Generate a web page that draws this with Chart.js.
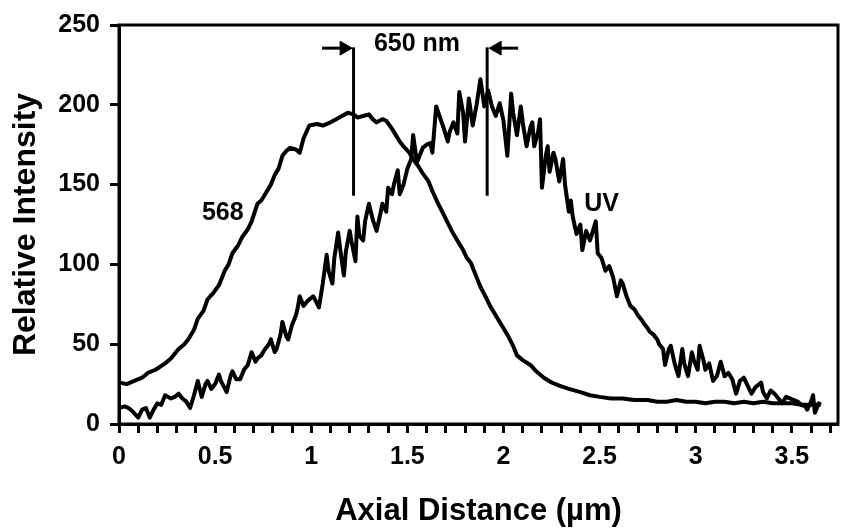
<!DOCTYPE html>
<html>
<head>
<meta charset="utf-8">
<script src="https://cdn.jsdelivr.net/npm/chart.js@4/dist/chart.umd.min.js"></script>
<style>
  body { margin: 0; background: #fff; }
</style>
</head>
<body>
<canvas id="chart" width="851" height="531"></canvas>
<script>
// 568 nm profile
const dist568 = [0.00, 0.04, 0.08, 0.12, 0.15, 0.19, 0.24, 0.27, 0.31, 0.34, 0.36, 0.39, 0.41, 0.44, 0.46, 0.49, 0.52, 0.55, 0.57, 0.59,
  0.62, 0.64, 0.67, 0.69, 0.72, 0.74, 0.76, 0.79, 0.81, 0.83, 0.85, 0.87, 0.89, 0.92, 0.94, 0.96, 0.99, 1.03, 1.06, 1.10,
  1.13, 1.16, 1.19, 1.22, 1.24, 1.27, 1.30, 1.32, 1.34, 1.37, 1.39, 1.42, 1.44, 1.46, 1.48, 1.51, 1.53, 1.56, 1.58, 1.61,
  1.63, 1.66, 1.69, 1.71, 1.74, 1.77, 1.79, 1.81, 1.83, 1.86, 1.88, 1.91, 1.93, 1.95, 1.97, 2.00, 2.02, 2.05, 2.07, 2.10,
  2.14, 2.17, 2.21, 2.25, 2.29, 2.34, 2.40, 2.45, 2.50, 2.56, 2.62, 2.68, 2.75, 2.80, 2.85, 2.90, 2.95, 3.00, 3.05, 3.10,
  3.15, 3.20, 3.25, 3.30, 3.35, 3.40, 3.45, 3.50, 3.55, 3.60, 3.65];
const int568 = [26, 25, 27, 29, 32, 34, 38, 41, 47, 50, 53, 59, 66, 71, 78, 82, 87, 96, 100, 107,
  112, 117, 122, 127, 138, 140, 144, 150, 156, 160, 168, 171, 173, 172, 170, 179, 187, 188, 187, 189,
  191, 193, 195, 194, 192, 193, 194, 191, 189, 191, 190, 185, 181, 177, 174, 170, 166, 161, 157, 152,
  146, 138, 131, 126, 119, 113, 109, 104, 101, 92, 86, 79, 74, 70, 66, 60, 56, 49, 43, 40,
  37, 33, 29, 26, 24, 22, 20, 18, 17, 16, 16, 15, 15, 14, 14, 15, 14, 14, 13, 14,
  14, 13, 14, 13, 14, 13, 13, 13, 12, 12, 12];

// UV profile
const distUV = [0.00, 0.03, 0.05, 0.07, 0.10, 0.12, 0.14, 0.16, 0.18, 0.20, 0.22, 0.24, 0.27, 0.29, 0.31, 0.33, 0.35, 0.37, 0.39, 0.41,
  0.43, 0.45, 0.46, 0.48, 0.50, 0.52, 0.53, 0.56, 0.58, 0.59, 0.61, 0.63, 0.65, 0.67, 0.69, 0.71, 0.72, 0.74, 0.76, 0.78,
  0.79, 0.81, 0.82, 0.84, 0.85, 0.87, 0.88, 0.90, 0.92, 0.93, 0.94, 0.96, 0.98, 1.01, 1.02, 1.04, 1.06, 1.08, 1.09, 1.11,
  1.12, 1.14, 1.15, 1.17, 1.18, 1.20, 1.21, 1.23, 1.24, 1.25, 1.27, 1.28, 1.30, 1.32, 1.34, 1.36, 1.37, 1.39, 1.40, 1.42,
  1.43, 1.45, 1.46, 1.48, 1.50, 1.52, 1.53, 1.55, 1.57, 1.58, 1.60, 1.62, 1.63, 1.65, 1.67, 1.69, 1.71, 1.72, 1.74, 1.76,
  1.77, 1.79, 1.80, 1.82, 1.84, 1.86, 1.88, 1.90, 1.92, 1.94, 1.96, 1.98, 2.00, 2.02, 2.04, 2.05, 2.07, 2.09, 2.10, 2.12,
  2.14, 2.15, 2.16, 2.18, 2.19, 2.20, 2.22, 2.23, 2.24, 2.26, 2.27, 2.29, 2.31, 2.32, 2.34, 2.35, 2.36, 2.38, 2.40, 2.41,
  2.43, 2.45, 2.48, 2.49, 2.51, 2.53, 2.55, 2.57, 2.59, 2.61, 2.62, 2.64, 2.66, 2.68, 2.70, 2.72, 2.73, 2.75, 2.76, 2.78,
  2.80, 2.81, 2.83, 2.84, 2.86, 2.87, 2.89, 2.91, 2.93, 2.94, 2.96, 2.98, 2.99, 3.01, 3.02, 3.04, 3.05, 3.07, 3.09, 3.11,
  3.13, 3.15, 3.17, 3.19, 3.21, 3.23, 3.25, 3.27, 3.29, 3.31, 3.34, 3.35, 3.37, 3.39, 3.41, 3.43, 3.45, 3.47, 3.49, 3.51,
  3.53, 3.55, 3.57, 3.58, 3.60, 3.61, 3.62, 3.64, 3.65];
const intUV = [10, 11, 10, 8, 4, 9, 10, 4, 9, 13, 12, 18, 16, 17, 19, 16, 14, 10, 18, 27,
  17, 25, 27, 22, 25, 31, 27, 20, 30, 33, 28, 28, 34, 37, 45, 39, 41, 43, 47, 50,
  53, 45, 47, 56, 64, 55, 53, 62, 68, 73, 80, 74, 77, 80, 78, 73, 88, 106, 96, 88,
  104, 120, 110, 93, 108, 121, 114, 102, 130, 118, 115, 127, 138, 128, 121, 132, 138, 133, 148, 144,
  150, 159, 144, 150, 160, 166, 181, 164, 170, 173, 175, 176, 170, 199, 192, 185, 177, 183, 189, 182,
  208, 195, 177, 204, 187, 200, 216, 199, 209, 199, 193, 201, 190, 168, 207, 195, 181, 199, 189, 174,
  186, 189, 174, 183, 191, 148, 168, 174, 158, 170, 166, 152, 166, 150, 133, 140, 130, 119, 125, 109,
  121, 115, 127, 107, 104, 96, 99, 92, 80, 90, 88, 80, 74, 72, 68, 65, 63, 60, 58, 56,
  53, 50, 47, 37, 47, 49, 38, 30, 47, 38, 30, 45, 40, 34, 49, 40, 34, 38, 27, 30,
  39, 30, 32, 28, 19, 27, 29, 24, 19, 23, 26, 20, 16, 21, 19, 16, 13, 17, 16, 15,
  14, 12, 11, 9, 14, 18, 7, 13, 12];

// peak markers and the 650 nm arrows
const peakX = [1.22, 1.915];
const peakSpan = [143, 236];
const arrowY = 235.5;
const leftArrowX = [1.056, 1.171];
const rightArrowX = [2.076, 1.967];

// text labels: [text, x, y]
const labels = [
  ['650 nm', 1.55, 238],
  ['568', 0.54, 132],
  ['UV', 2.51, 138]
];

const FONT = '"Liberation Sans", Arial, sans-serif';

function toPoints(xs, ys) {
  return xs.map((x, i) => ({ x: x, y: ys[i] }));
}

function lineSet(points, width) {
  return {
    data: points,
    borderColor: '#000',
    backgroundColor: '#000',
    borderWidth: width,
    borderJoinStyle: 'round',
    pointRadius: 0,
    tension: 0,
    fill: false
  };
}

const datasets = [
  lineSet(toPoints(dist568, int568), 4),
  lineSet(toPoints(distUV, intUV), 4)
];
peakX.forEach((px) => {
  datasets.push(lineSet([{ x: px, y: peakSpan[0] }, { x: px, y: peakSpan[1] }], 3));
});
[[leftArrowX, 90], [rightArrowX, -90]].forEach(([xs, rot]) => {
  let ds = lineSet([{ x: xs[0], y: arrowY }, { x: xs[1], y: arrowY }], 3);
  ds.pointRadius = [0, 8];
  ds.pointStyle = 'triangle';
  ds.rotation = rot;
  ds.pointBackgroundColor = '#000';
  ds.pointBorderWidth = 1;
  datasets.push(ds);
});

const frameAndText = {
  id: 'frameAndText',
  afterDatasetsDraw(chart) {
    const { ctx, chartArea, scales } = chart;
    ctx.save();
    ctx.strokeStyle = '#000';
    ctx.lineWidth = 3;
    ctx.strokeRect(chartArea.left, chartArea.top, chartArea.right - chartArea.left, chartArea.bottom - chartArea.top);
    ctx.fillStyle = '#000';
    ctx.font = 'bold 25px ' + FONT;
    ctx.textAlign = 'center';
    ctx.textBaseline = 'middle';
    labels.forEach(([t, x, y]) => {
      ctx.fillText(t, scales.x.getPixelForValue(x), scales.y.getPixelForValue(y));
    });
    ctx.restore();
  }
};

new Chart(document.getElementById('chart'), {
  type: 'line',
  data: { datasets: datasets },
  plugins: [frameAndText],
  options: {
    responsive: false,
    animation: false,
    events: [],
    layout: { padding: { top: 17, right: 13, left: 0, bottom: 0 } },
    plugins: { legend: { display: false }, tooltip: { enabled: false } },
    scales: {
      x: {
        type: 'linear',
        min: 0,
        max: 3.74,
        afterFit: (scale) => { scale.height = 107; },
        border: { display: true, width: 3, color: '#000' },
        grid: { drawOnChartArea: false, drawTicks: true, tickLength: 9, tickWidth: 3, tickColor: '#000' },
        ticks: {
          stepSize: 0.1,
          includeBounds: false,
          autoSkip: false,
          maxRotation: 0,
          padding: 9,
          color: '#000',
          font: { family: FONT, size: 25, weight: 'bold' },
          callback: (v) => {
            let h = Math.round(v * 10);
            return h % 5 === 0 ? String(h / 10) : '';
          }
        },
        title: {
          display: true,
          text: 'Axial Distance (\u00b5m)',
          color: '#000',
          font: { family: FONT, size: 31, weight: 'bold' },
          padding: { top: 0, bottom: 1 }
        }
      },
      y: {
        min: 0,
        max: 250,
        afterFit: (scale) => { scale.width = 119; },
        border: { display: true, width: 3, color: '#000' },
        grid: { drawOnChartArea: false, drawTicks: true, tickLength: 9, tickWidth: 3, tickColor: '#000' },
        ticks: {
          stepSize: 50,
          padding: 10,
          color: '#000',
          font: { family: FONT, size: 25, weight: 'bold' }
        },
        title: {
          display: true,
          text: 'Relative Intensity',
          color: '#000',
          font: { family: FONT, size: 32, weight: 'bold' },
          padding: { top: 7, bottom: 0 }
        }
      }
    }
  }
});
</script>
</body>
</html>
